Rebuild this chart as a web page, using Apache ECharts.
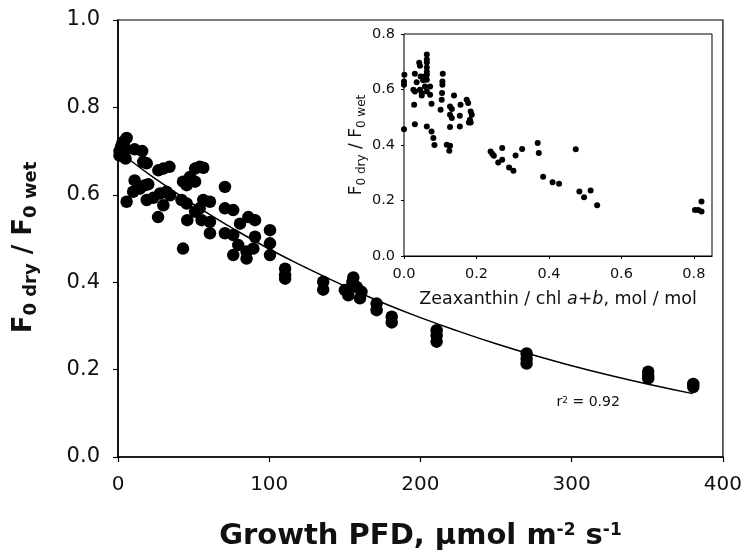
<!DOCTYPE html>
<html>
<head>
<meta charset="utf-8">
<script src="https://cdn.jsdelivr.net/npm/echarts@6/dist/echarts.min.js"></script>
<style>html,body{margin:0;padding:0;background:#fff}#c{width:745px;height:556px}</style>
</head>
<body>
<div id="c"></div>
<script>
// Main panel: F0dry/F0wet vs growth PFD
var pfd = [1,1,2,3,5.7,4,3.5,4,5,5.7,
  11,16,19,16.7,11,18,20,10,14.5,19,
  26.7,30,34,27.8,32,34.4,23.3,30,26.5,
  51,54,56.4,47.6,43,45.4,51,42,45.4,51,54,56.4,60.8,45.8,55.3,60.8,60.8,43,
  70.7,70.7,76.2,70.7,76.2,80.7,86.2,90.6,79.5,90.6,100.5,100.5,76.2,85,89.5,85,100.5,
  110.5,110.5,110.5,135.7,135.7,
  155.6,150,152.3,157.8,161,160,155,
  171,171,181,181,210.7,210.7,210.7,270.2,270.2,270.2,350.6,350.6,350.6,380.4,380.4];
var ratio = [0.70,0.69,0.71,0.72,0.73,0.713,0.70,0.69,0.683,0.584,
  0.704,0.70,0.672,0.675,0.633,0.622,0.624,0.607,0.614,0.588,
  0.656,0.660,0.664,0.603,0.607,0.599,0.593,0.576,0.549,
  0.66,0.664,0.662,0.641,0.63,0.622,0.63,0.588,0.58,0.561,0.569,0.588,0.584,0.542,0.542,0.538,0.512,0.477,
  0.618,0.569,0.565,0.512,0.508,0.534,0.549,0.542,0.485,0.504,0.519,0.489,0.462,0.47,0.477,0.454,0.462,
  0.431,0.416,0.408,0.401,0.383,
  0.411,0.382,0.37,0.389,0.378,0.363,0.40,
  0.351,0.336,0.321,0.308,0.29,0.278,0.264,0.237,0.225,0.214,0.195,0.186,0.18,0.167,0.16];
// Fitted curve
var fitX = [5,25,50,75,100,125,150,175,200,225,250,275,300,325,350,380];
var fitY = [0.687,0.636,0.578,0.525,0.476,0.432,0.391,0.353,0.319,0.288,0.259,0.233,0.209,0.187,0.167,0.145];
// Inset: F0dry/F0wet vs zeaxanthin / chl a+b
var zea = [0.001,0,0,0,0.063,0.063,0.063,0.063,0.063,0.063,0.063,0.042,0.044,0.030,0.046,0.056,0.053,0.035,
  0.026,0.030,0.044,0.049,0.058,0.063,0.072,0.072,0.049,0.028,0.076,
  0.107,0.106,0.106,0.105,0.104,0.101,0.138,0.127,0.132,0.127,0.132,0.156,0.173,0.177,0.184,0.187,0.182,0.154,
  0.127,0.154,0.030,0.063,0.076,0.081,0.084,0.118,0.127,0.125,0.179,0.184,
  0.239,0.244,0.248,0.271,0.260,0.271,0.290,0.302,0.308,0.326,0.369,0.372,0.384,0.410,0.428,
  0.474,0.484,0.497,0.515,0.533,0.803,0.821,0.821,0.812];
var ratio2 = [0.653,0.629,0.617,0.457,0.726,0.708,0.697,0.679,0.664,0.653,0.635,0.696,0.686,0.657,0.647,0.647,0.633,0.626,
  0.599,0.593,0.599,0.587,0.611,0.593,0.611,0.581,0.578,0.545,0.549,
  0.657,0.629,0.617,0.587,0.563,0.527,0.578,0.539,0.530,0.509,0.497,0.545,0.563,0.551,0.521,0.509,0.491,0.505,
  0.465,0.467,0.475,0.467,0.449,0.425,0.400,0.401,0.397,0.379,0.481,0.481,
  0.377,0.368,0.361,0.389,0.337,0.347,0.319,0.307,0.362,0.386,0.407,0.371,0.286,0.266,0.260,
  0.385,0.232,0.212,0.236,0.183,0.166,0.196,0.160,0.166];
var mainYTicks = ['0.0','0.2','0.4','0.6','0.8','1.0'];
var mainXTicks = ['0','100','200','300','400'];
var insetYTicks = ['0.0','0.2','0.4','0.6','0.8'];
var insetXTicks = ['0.0','0.2','0.4','0.6','0.8'];

var FF = '"DejaVu Sans", Verdana, sans-serif';
var INK = '#111';
function zip(a,b){var r=[];for(var i=0;i<a.length;i++)r.push([a[i],b[i]]);return r;}
function lab(list, step){return function(v){var i=Math.round(v/step);return Math.abs(v-i*step)<1e-6 && list[i]!==undefined ? list[i] : '';};}

var chart = echarts.init(document.getElementById('c'), null, {renderer:'canvas'});
chart.setOption({
  animation:false,
  backgroundColor:'#fff',
  grid:[
    {left:118,right:22,top:20,bottom:99},
    {left:404,right:33,top:34,bottom:300,show:true,borderWidth:0,backgroundColor:'#fff',z:1}
  ],
  xAxis:[
    {gridIndex:0,type:'value',min:0,max:400,interval:100,
     axisLine:{show:true,onZero:false,lineStyle:{color:'#000',width:1.6}},
     axisTick:{show:true,inside:false,length:5,lineStyle:{color:'#000',width:1.2}},
     splitLine:{show:false},
     axisLabel:{margin:18,fontSize:20,color:INK,fontFamily:FF,formatter:lab(mainXTicks,100)},
     name:'Growth PFD, µmol m{sup|-2} s{sup|-1}',nameLocation:'middle',nameGap:65,
     nameTextStyle:{fontSize:29,fontWeight:'bold',color:INK,fontFamily:FF,
       rich:{sup:{fontSize:17,fontWeight:'bold',verticalAlign:'top',lineHeight:16,fontFamily:FF,color:INK}}}},
    {gridIndex:1,type:'value',min:0,max:0.85,interval:0.2,
     axisLine:{show:true,onZero:false,lineStyle:{color:'#000',width:1.2}},
     axisTick:{show:true,inside:false,length:3,lineStyle:{color:'#000'}},
     splitLine:{show:false},
     axisLabel:{margin:11,fontSize:14.5,color:INK,fontFamily:FF,showMaxLabel:false,formatter:lab(insetXTicks,0.2)},
     name:'Zeaxanthin / chl {it|a}+{it|b}, mol / mol',nameLocation:'middle',nameGap:34,
     nameTextStyle:{fontSize:17.5,color:INK,fontFamily:FF,rich:{it:{fontSize:17.5,fontStyle:'italic',fontFamily:FF,color:INK}}}}
  ],
  yAxis:[
    {gridIndex:0,type:'value',min:0,max:1.0,interval:0.2,
     axisLine:{show:true,onZero:false,lineStyle:{color:'#000',width:1.6}},
     axisTick:{show:true,inside:false,length:5,lineStyle:{color:'#000',width:1.2}},
     splitLine:{show:false},
     axisLabel:{margin:18,fontSize:21,color:INK,fontFamily:FF,formatter:lab(mainYTicks,0.2)},
     name:'F{sub|0 dry} / F{sub|0 wet}',nameLocation:'middle',nameGap:78,nameRotate:90,
     nameTextStyle:{fontSize:26,fontWeight:'bold',color:INK,fontFamily:FF,lineHeight:32,padding:[0,18,0,0],
       rich:{sub:{fontSize:18,fontWeight:'bold',verticalAlign:'bottom',lineHeight:20,fontFamily:FF,color:INK}}}},
    {gridIndex:1,type:'value',min:0,max:0.8,interval:0.2,
     axisLine:{show:true,onZero:false,lineStyle:{color:'#000',width:1.2}},
     axisTick:{show:true,inside:false,length:3,lineStyle:{color:'#000'}},
     splitLine:{show:false},
     axisLabel:{margin:9,fontSize:14.5,color:INK,fontFamily:FF,formatter:lab(insetYTicks,0.2)},
     name:'F{sub|0 dry} / F{sub|0 wet}',nameLocation:'middle',nameGap:22,nameRotate:90,
     nameTextStyle:{fontSize:17,color:INK,fontFamily:FF,lineHeight:22,
       rich:{sub:{fontSize:12,verticalAlign:'bottom',lineHeight:13,fontFamily:FF,color:INK}}}}
  ],
  series:[
    {type:'line',xAxisIndex:0,yAxisIndex:0,data:zip(fitX,fitY),smooth:true,showSymbol:false,
     lineStyle:{color:'#000',width:1.5},z:2},
    {type:'scatter',xAxisIndex:0,yAxisIndex:0,data:zip(pfd,ratio),symbol:'circle',symbolSize:12.5,
     itemStyle:{color:'#000',opacity:1},z:3},
    {type:'scatter',xAxisIndex:1,yAxisIndex:1,data:zip(zea,ratio2),symbol:'circle',symbolSize:6,
     itemStyle:{color:'#000',opacity:1},z:6}
  ]
});
// Plot frames (top/right edges) derived from the axes' own scales
function frame(gi, x0, y0, x1, y1, w){
  var a = chart.convertToPixel({gridIndex:gi},[x0,y0]);
  var b = chart.convertToPixel({gridIndex:gi},[x1,y1]);
  return {type:'rect',silent:true,z:20,
    shape:{x:a[0],y:b[1],width:b[0]-a[0],height:a[1]-b[1]},
    style:{fill:null,stroke:'#000',lineWidth:w}};
}
var r2pos = chart.convertToPixel({gridIndex:0},[290,0.14]);
chart.setOption({graphic:[
  frame(0,0,0,400,1.0,1.2),
  frame(1,0,0,0.85,0.8,1),
  {type:'text',x:r2pos[0],y:r2pos[1],z:10,style:{text:'r{s|2} = 0.92',fontSize:14,fill:INK,fontFamily:FF,
    rich:{s:{fontSize:9,verticalAlign:'top',lineHeight:9,fill:INK,fontFamily:FF}}}}
]});
</script>
</body>
</html>
